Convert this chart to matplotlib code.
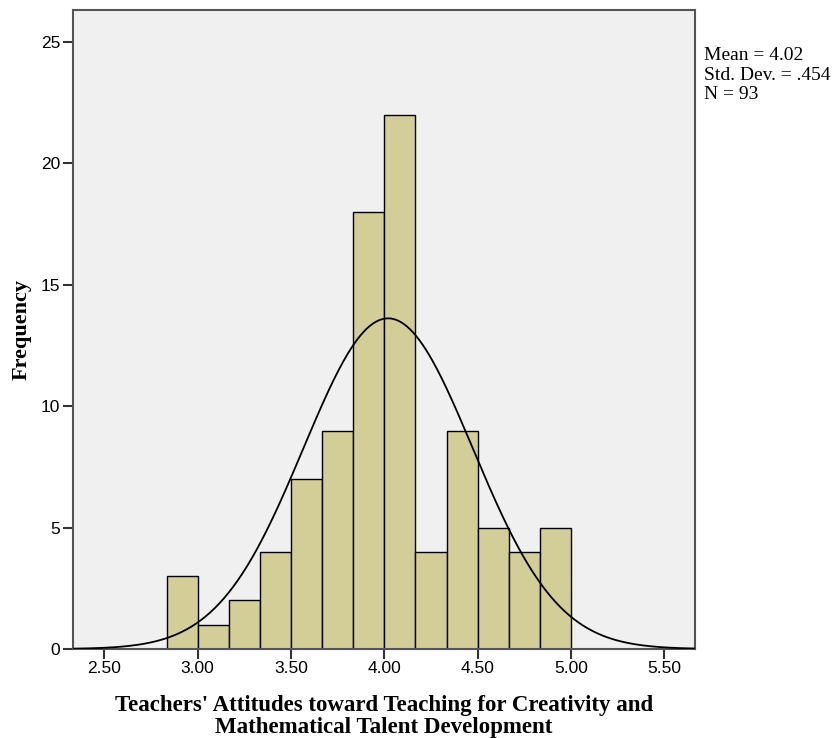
import matplotlib
matplotlib.use("Agg")
import matplotlib.pyplot as plt
import numpy as np

# histogram bins (SPSS output) and counts
bin_left = 2.8333
bin_width = 1.0 / 6.0
counts = [3, 1, 2, 4, 7, 9, 18, 22, 4, 9, 5, 4, 5]
mean = 4.02
std = 0.454
n = 93

xticks = [2.5, 3.0, 3.5, 4.0, 4.5, 5.0, 5.5]
xticklabels = ["2.50", "3.00", "3.50", "4.00", "4.50", "5.00", "5.50"]
yticks = [0, 5, 10, 15, 20, 25]

fig = plt.figure(figsize=(8.33, 7.38), dpi=100)
ax = fig.add_axes([0.0876, 0.1206, 0.7467, 0.8658])
ax.set_facecolor("#f0f0f0")

lefts = bin_left + bin_width * np.arange(len(counts))
ax.bar(lefts, counts, width=bin_width, align="edge", color="#d3ce97",
       edgecolor="black", linewidth=1.0, zorder=2)

# normal curve scaled to counts
xs = np.linspace(2.33, 5.67, 400)
ys = n * bin_width / (std * np.sqrt(2 * np.pi)) * np.exp(-0.5 * ((xs - mean) / std) ** 2)
ax.plot(xs, ys, color="black", linewidth=1.3, zorder=3)

ax.set_xlim(2.332, 5.664)
ax.set_ylim(0, 26.32)
ax.set_xticks(xticks)
ax.set_xticklabels(xticklabels, family="Liberation Sans", fontsize=12.5)
ax.set_yticks(yticks)
ax.set_yticklabels([str(v) for v in yticks], family="Liberation Sans", fontsize=12.5)
ax.tick_params(direction="out", length=7, width=1.5, color="#333333", pad=2)
for s in ax.spines.values():
    s.set_color("#555555")
    s.set_linewidth(1.5)

ax.set_xlabel("Teachers' Attitudes toward Teaching for Creativity and\nMathematical Talent Development",
              family="Liberation Serif", fontweight="bold", fontsize=16.5, labelpad=13, linespacing=1.12)
ax.set_ylabel("Frequency", family="Liberation Serif", fontweight="bold", fontsize=16, labelpad=7)

fig.text(0.845, 0.936, "Mean = 4.02\nStd. Dev. = .454\nN = 93", family="Liberation Serif",
         fontsize=14, va="top", ha="left", linespacing=1.18)

fig.savefig("out.png", dpi=100)
